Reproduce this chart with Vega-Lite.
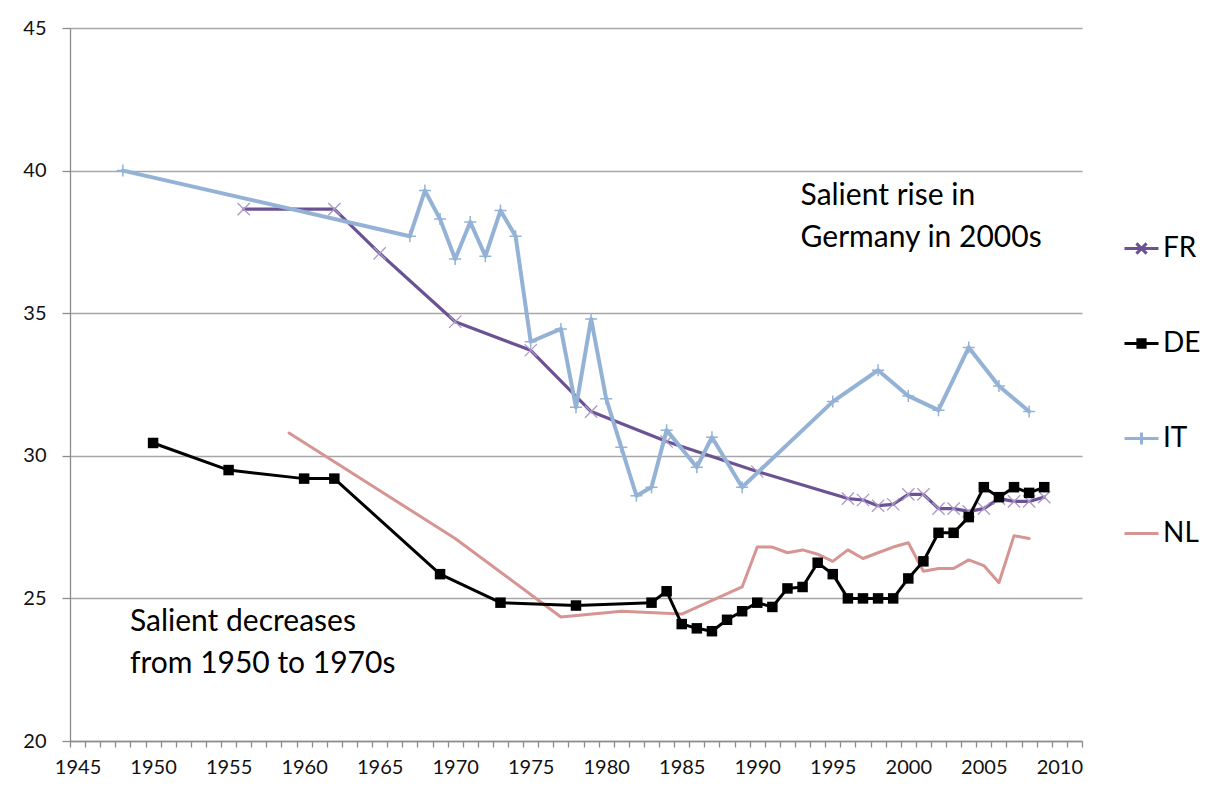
{
  "$schema": "https://vega.github.io/schema/vega-lite/v6.json",
  "width": 1012,
  "height": 713,
  "autosize": {"type": "none"},
  "padding": {"left": 70, "top": 28, "right": 124, "bottom": 48},
  "background": "white",
  "config": {
    "font": "Lato",
    "view": {"stroke": null},
    "axis": {"labelFont": "Lato", "labelColor": "#111111", "labelFontSize": 20, "domainColor": "#8c8c8c", "tickColor": "#8c8c8c", "domainWidth": 1.3, "tickWidth": 1.3, "title": null}
  },
  "datasets": {
    "series": [
      {"country": "FR", "year": 1956, "value": 38.65},
      {"country": "FR", "year": 1962, "value": 38.65},
      {"country": "FR", "year": 1965, "value": 37.1},
      {"country": "FR", "year": 1970, "value": 34.7},
      {"country": "FR", "year": 1975, "value": 33.7},
      {"country": "FR", "year": 1979, "value": 31.55},
      {"country": "FR", "year": 1984, "value": 30.5},
      {"country": "FR", "year": 1990, "value": 29.45},
      {"country": "FR", "year": 1996, "value": 28.5},
      {"country": "FR", "year": 1997, "value": 28.45},
      {"country": "FR", "year": 1998, "value": 28.25},
      {"country": "FR", "year": 1999, "value": 28.3},
      {"country": "FR", "year": 2000, "value": 28.65},
      {"country": "FR", "year": 2001, "value": 28.65},
      {"country": "FR", "year": 2002, "value": 28.15},
      {"country": "FR", "year": 2003, "value": 28.15},
      {"country": "FR", "year": 2004, "value": 28.05},
      {"country": "FR", "year": 2005, "value": 28.15},
      {"country": "FR", "year": 2006, "value": 28.5},
      {"country": "FR", "year": 2007, "value": 28.4},
      {"country": "FR", "year": 2008, "value": 28.4},
      {"country": "FR", "year": 2009, "value": 28.55},
      {"country": "DE", "year": 1950, "value": 30.45},
      {"country": "DE", "year": 1955, "value": 29.5},
      {"country": "DE", "year": 1960, "value": 29.2},
      {"country": "DE", "year": 1962, "value": 29.2},
      {"country": "DE", "year": 1969, "value": 25.85},
      {"country": "DE", "year": 1973, "value": 24.85},
      {"country": "DE", "year": 1978, "value": 24.75},
      {"country": "DE", "year": 1983, "value": 24.85},
      {"country": "DE", "year": 1984, "value": 25.25},
      {"country": "DE", "year": 1985, "value": 24.1},
      {"country": "DE", "year": 1986, "value": 23.95},
      {"country": "DE", "year": 1987, "value": 23.85},
      {"country": "DE", "year": 1988, "value": 24.25},
      {"country": "DE", "year": 1989, "value": 24.55},
      {"country": "DE", "year": 1990, "value": 24.85},
      {"country": "DE", "year": 1991, "value": 24.7},
      {"country": "DE", "year": 1992, "value": 25.35},
      {"country": "DE", "year": 1993, "value": 25.4},
      {"country": "DE", "year": 1994, "value": 26.25},
      {"country": "DE", "year": 1995, "value": 25.85},
      {"country": "DE", "year": 1996, "value": 25.0},
      {"country": "DE", "year": 1997, "value": 25.0},
      {"country": "DE", "year": 1998, "value": 25.0},
      {"country": "DE", "year": 1999, "value": 25.0},
      {"country": "DE", "year": 2000, "value": 25.7},
      {"country": "DE", "year": 2001, "value": 26.3},
      {"country": "DE", "year": 2002, "value": 27.3},
      {"country": "DE", "year": 2003, "value": 27.3},
      {"country": "DE", "year": 2004, "value": 27.85},
      {"country": "DE", "year": 2005, "value": 28.9},
      {"country": "DE", "year": 2006, "value": 28.55},
      {"country": "DE", "year": 2007, "value": 28.9},
      {"country": "DE", "year": 2008, "value": 28.7},
      {"country": "DE", "year": 2009, "value": 28.9},
      {"country": "IT", "year": 1948, "value": 40.0},
      {"country": "IT", "year": 1967, "value": 37.7},
      {"country": "IT", "year": 1968, "value": 39.3},
      {"country": "IT", "year": 1969, "value": 38.3},
      {"country": "IT", "year": 1970, "value": 36.9},
      {"country": "IT", "year": 1971, "value": 38.2},
      {"country": "IT", "year": 1972, "value": 37.0},
      {"country": "IT", "year": 1973, "value": 38.6},
      {"country": "IT", "year": 1974, "value": 37.7},
      {"country": "IT", "year": 1975, "value": 34.0},
      {"country": "IT", "year": 1977, "value": 34.45},
      {"country": "IT", "year": 1978, "value": 31.7},
      {"country": "IT", "year": 1979, "value": 34.8},
      {"country": "IT", "year": 1980, "value": 32.0},
      {"country": "IT", "year": 1981, "value": 30.3},
      {"country": "IT", "year": 1982, "value": 28.6},
      {"country": "IT", "year": 1983, "value": 28.9},
      {"country": "IT", "year": 1984, "value": 30.9},
      {"country": "IT", "year": 1986, "value": 29.6},
      {"country": "IT", "year": 1987, "value": 30.65},
      {"country": "IT", "year": 1989, "value": 28.9},
      {"country": "IT", "year": 1995, "value": 31.9},
      {"country": "IT", "year": 1998, "value": 33.0},
      {"country": "IT", "year": 2000, "value": 32.1},
      {"country": "IT", "year": 2002, "value": 31.6},
      {"country": "IT", "year": 2004, "value": 33.8},
      {"country": "IT", "year": 2006, "value": 32.45},
      {"country": "IT", "year": 2008, "value": 31.55},
      {"country": "NL", "year": 1959, "value": 30.8},
      {"country": "NL", "year": 1970, "value": 27.1},
      {"country": "NL", "year": 1977, "value": 24.35},
      {"country": "NL", "year": 1981, "value": 24.55},
      {"country": "NL", "year": 1985, "value": 24.45},
      {"country": "NL", "year": 1989, "value": 25.4},
      {"country": "NL", "year": 1990, "value": 26.8},
      {"country": "NL", "year": 1991, "value": 26.8},
      {"country": "NL", "year": 1992, "value": 26.6},
      {"country": "NL", "year": 1993, "value": 26.7},
      {"country": "NL", "year": 1994, "value": 26.55},
      {"country": "NL", "year": 1995, "value": 26.3},
      {"country": "NL", "year": 1996, "value": 26.7},
      {"country": "NL", "year": 1997, "value": 26.4},
      {"country": "NL", "year": 1998, "value": 26.6},
      {"country": "NL", "year": 1999, "value": 26.8},
      {"country": "NL", "year": 2000, "value": 26.95},
      {"country": "NL", "year": 2001, "value": 25.95},
      {"country": "NL", "year": 2002, "value": 26.05},
      {"country": "NL", "year": 2003, "value": 26.05},
      {"country": "NL", "year": 2004, "value": 26.35},
      {"country": "NL", "year": 2005, "value": 26.15},
      {"country": "NL", "year": 2006, "value": 25.55},
      {"country": "NL", "year": 2007, "value": 27.2},
      {"country": "NL", "year": 2008, "value": 27.1}
    ],
    "notes": [
      {"note": "rise", "year": 1993, "value": 38.81, "line1": "Salient rise in", "line2": "Germany in 2000s"},
      {"note": "decrease", "year": 1949, "value": 23.84, "line1": "Salient decreases", "line2": "from 1950 to 1970s"}
    ]
  },
  "data": {"name": "series"},
  "encoding": {
    "x": {
      "field": "year",
      "type": "ordinal",
      "scale": {
        "type": "band",
        "paddingInner": 0,
        "paddingOuter": 0,
        "domain": [1945,1946,1947,1948,1949,1950,1951,1952,1953,1954,1955,1956,1957,1958,1959,1960,1961,1962,1963,1964,1965,1966,1967,1968,1969,1970,1971,1972,1973,1974,1975,1976,1977,1978,1979,1980,1981,1982,1983,1984,1985,1986,1987,1988,1989,1990,1991,1992,1993,1994,1995,1996,1997,1998,1999,2000,2001,2002,2003,2004,2005,2006,2007,2008,2009,2010,2011]
      },
      "axis": {
        "tickBand": "extent",
        "tickSize": 6,
        "labelAngle": 0,
        "labelPadding": 10,
        "labelOverlap": false,
        "labelExpr": "datum.value % 5 === 0 ? datum.value : ''",
        "grid": false
      }
    },
    "y": {
      "field": "value",
      "type": "quantitative",
      "scale": {"domain": [20, 45], "nice": false, "zero": false},
      "axis": {
        "values": [20, 25, 30, 35, 40, 45],
        "tickSize": 8,
        "labelPadding": 16,
        "grid": true,
        "gridColor": "#a6a6a6",
        "gridWidth": 1.3
      }
    }
  },
  "layer": [
    {
      "transform": [{"filter": "datum.country === 'FR'"}],
      "mark": {"type": "line", "stroke": "#6b5393", "strokeWidth": 3.2, "strokeJoin": "round", "strokeCap": "round"}
    },
    {
      "transform": [{"filter": "datum.country === 'FR'"}],
      "mark": {"type": "point", "shape": "M-1,-1L1,1M-1,1L1,-1", "size": 150, "filled": false, "stroke": "#ab98c8", "strokeWidth": 1.3, "opacity": 1}
    },
    {
      "transform": [{"filter": "datum.country === 'NL'"}],
      "mark": {"type": "line", "stroke": "#d69593", "strokeWidth": 3, "strokeJoin": "round", "strokeCap": "round"}
    },
    {
      "transform": [{"filter": "datum.country === 'DE'"}],
      "mark": {"type": "line", "stroke": "#000000", "strokeWidth": 3, "strokeJoin": "round"}
    },
    {
      "transform": [{"filter": "datum.country === 'DE'"}],
      "mark": {"type": "point", "shape": "square", "size": 110, "filled": true, "fill": "#000000", "opacity": 1}
    },
    {
      "transform": [{"filter": "datum.country === 'IT'"}],
      "mark": {"type": "line", "stroke": "#94b2d6", "strokeWidth": 4, "strokeJoin": "round", "strokeCap": "round"}
    },
    {
      "transform": [{"filter": "datum.country === 'IT'"}],
      "mark": {"type": "point", "shape": "M-1,0H1M0,-1V1", "size": 144, "filled": false, "stroke": "#94b2d6", "strokeWidth": 1.5, "opacity": 1}
    },
    {
      "data": {"name": "notes"},
      "transform": [{"filter": "datum.note === 'rise'"}],
      "mark": {"type": "text", "align": "left", "baseline": "alphabetic", "font": "Lato", "fontSize": 30, "color": "#000000", "dx": -2},
      "encoding": {"text": {"field": "line1"}}
    },
    {
      "data": {"name": "notes"},
      "transform": [{"filter": "datum.note === 'rise'"}],
      "mark": {"type": "text", "align": "left", "baseline": "alphabetic", "font": "Lato", "fontSize": 30, "color": "#000000", "dx": -2, "dy": 42},
      "encoding": {"text": {"field": "line2"}}
    },
    {
      "data": {"name": "notes"},
      "transform": [{"filter": "datum.note === 'decrease'"}],
      "mark": {"type": "text", "align": "left", "baseline": "alphabetic", "font": "Lato", "fontSize": 30, "color": "#000000", "dx": -8},
      "encoding": {"text": {"field": "line1"}}
    },
    {
      "data": {"name": "notes"},
      "transform": [{"filter": "datum.note === 'decrease'"}],
      "mark": {"type": "text", "align": "left", "baseline": "alphabetic", "font": "Lato", "fontSize": 30, "color": "#000000", "dx": -8, "dy": 42},
      "encoding": {"text": {"field": "line2"}}
    },
    {
      "transform": [{"filter": "datum.value > 1000"}],
      "mark": {"type": "point", "filled": false, "strokeWidth": 3, "opacity": 1},
      "encoding": {
        "color": {
          "field": "country",
          "type": "nominal",
          "scale": {"domain": ["FR", "DE", "IT", "NL"], "range": ["#6b5393", "#000000", "#94b2d6", "#d69593"]},
          "legend": {
            "title": null,
            "orient": "none",
            "legendX": 1053,
            "legendY": 202,
            "padding": 0,
            "symbolSize": 1156,
            "symbolStrokeWidth": 3,
            "labelFont": "Lato",
            "labelFontSize": 28,
            "labelColor": "#000000",
            "labelOffset": 3,
            "rowPadding": 62,
            "direction": "vertical",
            "columns": 1
          }
        },
        "shape": {
          "field": "country",
          "type": "nominal",
          "scale": {
            "domain": ["FR", "DE", "IT", "NL"],
            "range": ["M-1,0H1M-0.3,-0.3L0.3,0.3M-0.3,0.3L0.3,-0.3", "M-1,0H1M-0.3,-0.22H0.3M-0.3,-0.11H0.3M-0.3,0.11H0.3M-0.3,0.22H0.3", "M-1,0H1M0,-0.35V0.35", "M-1,0H1"]
          },
          "legend": {
            "title": null,
            "orient": "none",
            "legendX": 1053,
            "legendY": 202,
            "padding": 0,
            "symbolSize": 1156,
            "symbolStrokeWidth": 3,
            "labelFont": "Lato",
            "labelFontSize": 28,
            "labelColor": "#000000",
            "labelOffset": 3,
            "rowPadding": 62,
            "direction": "vertical",
            "columns": 1
          }
        }
      }
    }
  ]
}
